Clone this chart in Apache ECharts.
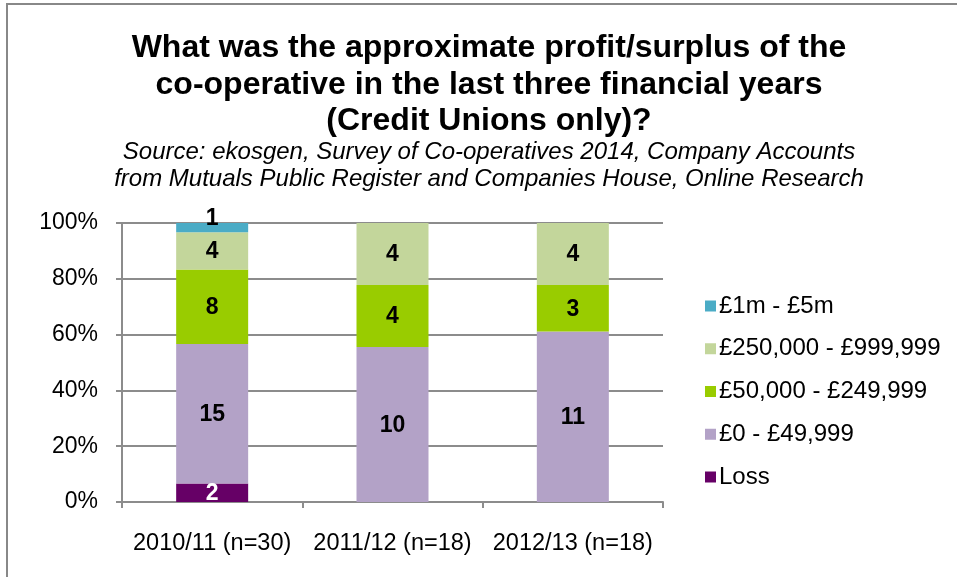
<!DOCTYPE html>
<html>
<head>
<meta charset="utf-8">
<script src="https://cdn.jsdelivr.net/npm/echarts@6/dist/echarts.min.js"></script>
<style>
  html, body { margin: 0; padding: 0; background: #fff; }
  #chart { width: 957px; height: 577px; }
</style>
</head>
<body>
<div id="chart"></div>
<script>
// Financial years with sample sizes
const categories = ['2010/11 (n=30)', '2011/12 (n=18)', '2012/13 (n=18)'];
const sampleSizes = [30, 18, 18];

// Number of credit unions in each profit/surplus band (bottom to top of stack)
const lossCounts = [2, 0, 0];
const band0to49kCounts = [15, 10, 11];
const band50kto249kCounts = [8, 4, 3];
const band250kto999kCounts = [4, 4, 4];
const band1mto5mCounts = [1, 0, 0];

const seriesNames = ['Loss', '£0 - £49,999', '£50,000 - £249,999', '£250,000 - £999,999', '£1m - £5m'];
const seriesColors = ['#660066', '#B3A2C7', '#99CC00', '#C3D69B', '#4BACC6'];
const yTicks = [0, 20, 40, 60, 80, 100];

const FONT = '"Liberation Sans", Arial, sans-serif';

const allCounts = [lossCounts, band0to49kCounts, band50kto249kCounts, band250kto999kCounts, band1mto5mCounts];

const series = allCounts.map((counts, si) => ({
  name: seriesNames[si],
  type: 'bar',
  stack: 'share',
  barWidth: 72,
  itemStyle: { color: seriesColors[si] },
  data: counts.map((c, i) => ({ value: c === 0 ? null : c / sampleSizes[i] * 100, count: c })),
  label: {
    show: true,
    position: 'inside',
    offset: si === 4 ? [0, -9] : [0, 1],
    fontFamily: FONT,
    fontWeight: 'bold',
    fontSize: 23,
    color: si === 0 ? '#ffffff' : '#000000',
    formatter: p => p.data && p.data.count ? String(p.data.count) : ''
  }
}));

const chart = echarts.init(document.getElementById('chart'), null, { renderer: 'canvas' });
chart.setOption({
  animation: false,
  backgroundColor: '#ffffff',
  textStyle: { fontFamily: FONT },
  title: [
    {
      text: 'What was the approximate profit/surplus of the\nco-operative in the last three financial years\n(Credit Unions only)?',
      left: 484, top: 25, textAlign: 'center',
      textStyle: { fontFamily: FONT, fontWeight: 'bold', fontSize: 32, lineHeight: 36.5, color: '#000' }
    },
    {
      text: 'Source: ekosgen, Survey of Co-operatives 2014, Company Accounts\nfrom Mutuals Public Register and Companies House, Online Research',
      left: 484, top: 134, textAlign: 'center',
      textStyle: { fontFamily: FONT, fontStyle: 'italic', fontWeight: 'normal', fontSize: 24, lineHeight: 27, color: '#000' }
    }
  ],
  graphic: [
    { type: 'line', shape: { x1: 7, y1: 4, x2: 7, y2: 577 }, style: { stroke: '#888', lineWidth: 2 } },
    { type: 'line', shape: { x1: 6, y1: 4, x2: 957, y2: 4 }, style: { stroke: '#888', lineWidth: 2 } }
  ],
  legend: {
    orient: 'vertical',
    left: 700, top: 289,
    itemWidth: 11, itemHeight: 11, itemGap: 18.75,
    icon: 'rect',
    data: seriesNames.slice().reverse(),
    textStyle: { fontFamily: FONT, fontSize: 24, lineHeight: 24, color: '#000', padding: [0, 0, 0, -2] }
  },
  grid: { left: 122, right: 294, top: 223, bottom: 75, containLabel: false },
  xAxis: {
    type: 'category',
    data: categories,
    axisLine: { show: true, lineStyle: { color: '#8c8c8c', width: 2 } },
    axisTick: { show: true, length: 6, lineStyle: { color: '#8c8c8c', width: 2 } },
    axisLabel: { fontFamily: FONT, fontSize: 23.5, color: '#000', margin: 30, interval: 0, hideOverlap: false }
  },
  yAxis: {
    type: 'value',
    min: 0, max: 100, interval: 20,
    axisLine: { show: true, lineStyle: { color: '#8c8c8c', width: 2 } },
    axisTick: { show: true, length: 6, lineStyle: { color: '#8c8c8c', width: 2 } },
    splitLine: { show: true, lineStyle: { color: '#8c8c8c', width: 2 } },
    axisLabel: {
      fontFamily: FONT, fontSize: 23, color: '#000', margin: 24,
      formatter: v => yTicks.includes(v) ? v + '%' : ''
    }
  },
  series: series
});
</script>
</body>
</html>
